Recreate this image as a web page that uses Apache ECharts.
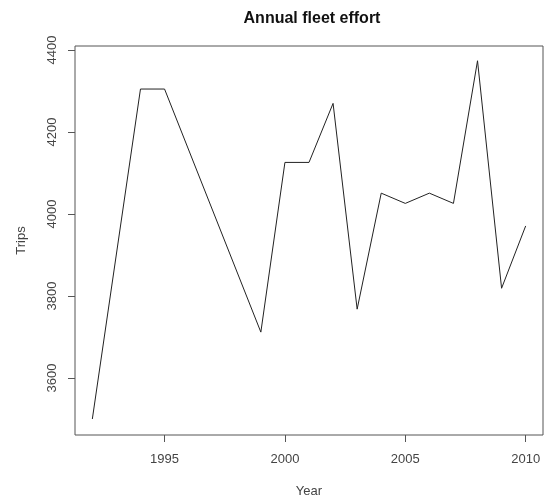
<!DOCTYPE html>
<html>
<head>
<meta charset="utf-8">
<script src="https://cdn.jsdelivr.net/npm/echarts@6/dist/echarts.min.js"></script>
<style>html,body{margin:0;padding:0;background:#fff}#c{width:546px;height:503px}</style>
</head>
<body>
<div id="c"></div>
<script>
var years = [1992, 1994, 1995, 1999, 2000, 2001, 2002, 2003, 2004, 2005, 2006, 2007, 2008, 2009, 2010];
var trips = [3500, 4305, 4305, 3712, 4126, 4126, 4270, 3768, 4051, 4026, 4051, 4026, 4374, 3819, 3971];
var xTicks = [1995, 2000, 2005, 2010];
var yTicks = [3600, 3800, 4000, 4200, 4400];

var font = 'Liberation Sans, Arial, sans-serif';
function plain(v) { return String(v); }
var chart = echarts.init(document.getElementById('c'), null, {renderer: 'canvas'});
chart.setOption({
  animation: false,
  backgroundColor: '#fff',
  title: {
    text: 'Annual fleet effort',
    left: 307, top: 6, textAlign: 'center',
    textStyle: {fontFamily: font, fontSize: 16, fontWeight: 'bold', color: '#111'}
  },
  grid: {left: 75, right: 3, top: 46, bottom: 66, show: true, borderColor: '#555', borderWidth: 1, backgroundColor: 'transparent'},
  xAxis: {
    type: 'value', min: 1991.28, max: 2010.72,
    name: 'Year', nameLocation: 'middle', nameGap: 50,
    nameTextStyle: {fontFamily: font, fontSize: 13, color: '#444'},
    axisLine: {show: false},
    splitLine: {show: false},
    axisTick: {show: true, length: 7, lineStyle: {color: '#555'}, customValues: xTicks},
    axisLabel: {fontFamily: font, fontSize: 13, color: '#444', margin: 18, customValues: xTicks, formatter: plain}
  },
  yAxis: {
    type: 'value', min: 3461, max: 4410,
    name: 'Trips', nameLocation: 'middle', nameGap: 47, nameRotate: 90,
    nameTextStyle: {fontFamily: font, fontSize: 13, color: '#444'},
    axisLine: {show: false},
    splitLine: {show: false},
    axisTick: {show: true, length: 7, lineStyle: {color: '#555'}, customValues: yTicks},
    axisLabel: {fontFamily: font, fontSize: 13, color: '#444', margin: 16, rotate: 90, customValues: yTicks, formatter: plain}
  },
  series: [{
    type: 'line',
    data: years.map(function (y, i) { return [y, trips[i]]; }),
    showSymbol: false,
    symbol: 'none',
    lineStyle: {color: '#222', width: 1},
    silent: true
  }]
});
</script>
</body>
</html>
